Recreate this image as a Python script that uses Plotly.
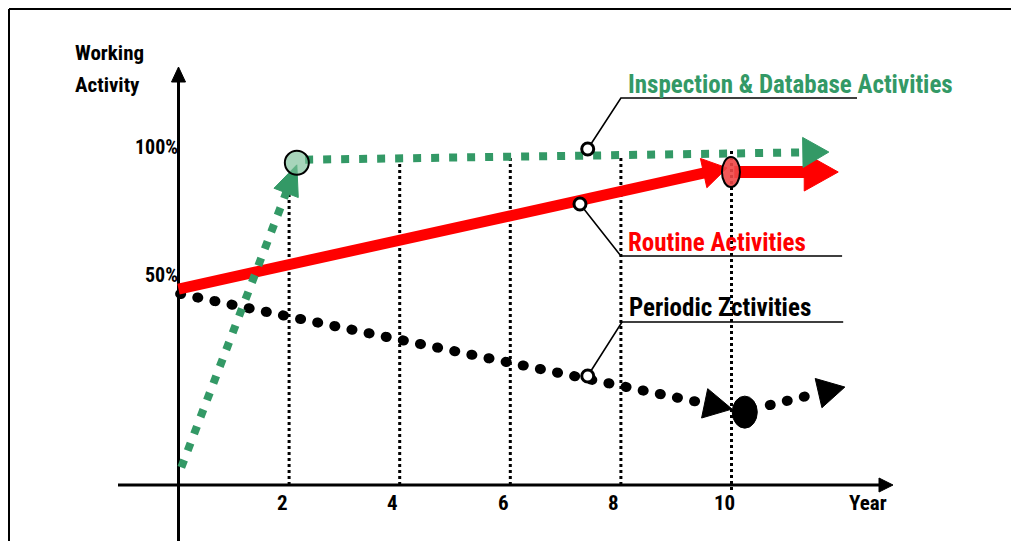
import math
import plotly.graph_objects as go

# ---- chart data -------------------------------------------------------------
tick_years = [2, 4, 6, 8, 10]
tick_labels = ["2", "4", "6", "8", "10"]
pct_ticks = [50, 100]
pct_labels = ["50%", "100%"]
guide_tops = [83.0, 97.0, 97.7, 98.0, 100.0]   # upper end of each year guide

# Inspection & Database: rise to ~95% by year 2, then level towards 100%
insp_years = [0.05, 2.14, 11.76]
insp_pct = [-24.0, 95.0, 99.2]

# Routine: steady climb, marker at year 10, then flat
routine_years = [0.0, 9.92, 10.05, 11.93]
routine_pct = [45.7, 93.0, 91.4, 91.4]

# Periodic: declining towards year 10, then slight recovery
periodic_years = [0.03, 10.01, 10.24, 12.05]
periodic_pct = [43.8, -1.2, -1.6, 7.4]

# callout anchors: (point on line, elbow, end of underline, label y)
callouts = {
    "Inspection & Database Activities": dict(pt=(7.40, 100.4), elbow=(8.0, 120.3), end=(12.27, 120.3), ty=125.4, color="#339966"),
    "Routine Activities": dict(pt=(7.26, 78.9), elbow=(8.0, 58.6), end=(12.0, 58.6), ty=63.7, color="#ff0000"),
    "Periodic Zctivities": dict(pt=(7.40, 11.7), elbow=(8.02, 32.8), end=(12.02, 32.8), ty=38.3, color="#000000"),
}

# ---- coordinate helpers -----------------------------------------------------
W, H = 1011, 541
X_OFF, X_SCALE = 178.5, 55.3      # pixels at year 0, pixels per year
Y_OFF, Y_SCALE = 406.0, 2.56      # pixels at 0 %, pixels per percent
X_RANGE = [(0 - X_OFF) / X_SCALE, (W - X_OFF) / X_SCALE]
Y_RANGE = [(Y_OFF - H) / Y_SCALE, (Y_OFF - 0) / Y_SCALE]
AXIS_Y = (Y_OFF - 485) / Y_SCALE
FONT = "Liberation Sans Narrow, Arial Narrow, Roboto Condensed, sans-serif"


def to_px(x, y):
    return X_OFF + X_SCALE * x, Y_OFF - Y_SCALE * y


def to_data(px, py):
    return (px - X_OFF) / X_SCALE, (Y_OFF - py) / Y_SCALE


def head(x0, y0, x1, y1, length, half):
    """Triangle arrowhead at (x1, y1) pointing away from (x0, y0); returns
    the triangle and the point where the shaft should stop."""
    ax, ay = to_px(x0, y0)
    bx, by = to_px(x1, y1)
    d = math.hypot(bx - ax, by - ay)
    ux, uy = (bx - ax) / d, (by - ay) / d
    nx, ny = -uy, ux
    cx, cy = bx - ux * length, by - uy * length
    pts = [(bx, by), (cx + nx * half, cy + ny * half), (cx - nx * half, cy - ny * half), (bx, by)]
    data = [to_data(*p) for p in pts]
    stop = to_data(cx + ux * 2, cy + uy * 2)
    return [p[0] for p in data], [p[1] for p in data], stop


def ellipse(cx, cy, rx_px, ry_px, **kw):
    px, py = to_px(cx, cy)
    x0, y0 = to_data(px - rx_px, py + ry_px)
    x1, y1 = to_data(px + rx_px, py - ry_px)
    return dict(type="circle", xref="x", yref="y", x0=x0, x1=x1, y0=y0, y1=y1, layer="above", **kw)


fig = go.Figure()


def line(xs, ys, color, width, dash="solid"):
    fig.add_trace(go.Scatter(x=xs, y=ys, mode="lines", hoverinfo="skip", showlegend=False,
                             line=dict(color=color, width=width, dash=dash)))


def tri(xs, ys, color):
    fig.add_trace(go.Scatter(x=xs, y=ys, mode="lines", fill="toself", fillcolor=color, hoverinfo="skip",
                             showlegend=False, line=dict(color=color, width=1)))


# ---- year guides ------------------------------------------------------------
for yr, top in zip(tick_years, guide_tops):
    bottom = AXIS_Y - (2.0 if yr == 10 else 0.0)
    line([yr, yr], [bottom, top], "#000000", 3, "3px,3px")

# ---- axes -------------------------------------------------------------------
xa0, _ = to_data(118, 0)
xtip, _ = to_data(893, 0)
tx, ty, stop = head(xa0, AXIS_Y, xtip, AXIS_Y, 14, 7)
line([xa0, stop[0]], [AXIS_Y, AXIS_Y], "#000000", 3)
tri(tx, ty, "#000000")

_, ytip = to_data(0, 67)
tx, ty, stop = head(0, Y_RANGE[0], 0, ytip, 15, 7)
line([0, 0], [Y_RANGE[0], stop[1]], "#000000", 3)
tri(tx, ty, "#000000")

# ---- Periodic (round dots) --------------------------------------------------
DOTS = "1px,16.5px"
tx, ty, stop = head(periodic_years[0], periodic_pct[0], periodic_years[1], periodic_pct[1], 28, 15)
line([periodic_years[0], stop[0]], [periodic_pct[0], stop[1]], "#000000", 10, DOTS)
tri(tx, ty, "#000000")
tx, ty, stop = head(periodic_years[2], periodic_pct[2], periodic_years[3], periodic_pct[3], 27, 15)
sx, sy = to_data(*[a + b for a, b in zip(to_px(periodic_years[2], periodic_pct[2]), (25, -5))])
line([sx, stop[0]], [sy, stop[1]], "#000000", 10, DOTS)
tri(tx, ty, "#000000")

# ---- Routine ----------------------------------------------------------------
tx, ty, stop = head(routine_years[0], routine_pct[0], routine_years[1], routine_pct[1], 24, 15)
line([routine_years[0], stop[0]], [routine_pct[0], stop[1]], "#ff0000", 11)
tri(tx, ty, "#ff0000")
tx, ty, stop = head(routine_years[2], routine_pct[2], routine_years[3], routine_pct[3], 34, 19)
line([routine_years[2], stop[0]], [routine_pct[2], stop[1]], "#ff0000", 12)
tri(tx, ty, "#ff0000")

# ---- Inspection & Database --------------------------------------------------
GREEN = "#339966"
tx, ty, stop = head(insp_years[0], insp_pct[0], insp_years[1], insp_pct[1] - 0.8, 30, 13)
line([insp_years[0], stop[0]], [insp_pct[0], stop[1]], GREEN, 8, "8px,10px")
tri(tx, ty, GREEN)
tx, ty, stop = head(insp_years[1], insp_pct[1] + 1.2, insp_years[2], insp_pct[2], 26, 15)
line([insp_years[1] + 0.15, stop[0]], [insp_pct[1] + 1.2, stop[1]], GREEN, 8, "8px,10px")
tri(tx, ty, GREEN)

# ---- callouts ---------------------------------------------------------------
annotations = []
for text, c in callouts.items():
    line([c["pt"][0], c["elbow"][0], c["end"][0]], [c["pt"][1], c["elbow"][1], c["end"][1]], "#000000", 1.6)
    fig.add_trace(go.Scatter(x=[c["pt"][0]], y=[c["pt"][1]], mode="markers", hoverinfo="skip", showlegend=False,
                             marker=dict(size=12, color="#ffffff", line=dict(color="#000000", width=3))))
    annotations.append(dict(x=c["elbow"][0], y=c["ty"], xref="x", yref="y", text="<b>" + text + "</b>",
                            showarrow=False, xanchor="left", yanchor="middle", xshift=5,
                            font=dict(size=25, color=c["color"], family=FONT)))

# ---- markers on the lines ---------------------------------------------------
shapes = [
    ellipse(insp_years[1], insp_pct[1], 12, 12, fillcolor="rgba(120,190,150,0.65)", line=dict(color="#000000", width=2)),
    ellipse(routine_years[2] - 0.06, routine_pct[2], 9, 15, fillcolor="rgba(240,70,70,0.9)", line=dict(color="#000000", width=2)),
    ellipse(periodic_years[2], periodic_pct[2] - 0.8, 12.5, 16, fillcolor="#000000", line=dict(color="#000000", width=1)),
    # frame
    dict(type="line", xref="paper", yref="paper", x0=9 / W, x1=1, y0=1 - 9 / H, y1=1 - 9 / H,
         line=dict(color="#000000", width=2)),
    dict(type="line", xref="paper", yref="paper", x0=9 / W, x1=9 / W, y0=0, y1=1 - 9 / H,
         line=dict(color="#000000", width=2)),
]

# ---- tick labels and axis titles --------------------------------------------
for yr, lab in zip(tick_years, tick_labels):
    annotations.append(dict(x=yr, y=AXIS_Y, xref="x", yref="y", text="<b>" + lab + "</b>", showarrow=False,
                            xanchor="center", yanchor="top", xshift=-7, yshift=-4,
                            font=dict(size=21, color="#000000", family=FONT)))
for p, lab in zip(pct_ticks, pct_labels):
    annotations.append(dict(x=0, y=p, xref="x", yref="y", text="<b>" + lab + "</b>", showarrow=False,
                            xanchor="right", yanchor="middle", xshift=1, yshift=3,
                            font=dict(size=20, color="#000000", family=FONT)))
annotations += [
    dict(x=73 / W, y=1 - 53 / H, xref="paper", yref="paper", text="<b>Working</b>", showarrow=False,
         xanchor="left", yanchor="middle", font=dict(size=21, color="#000000", family=FONT)),
    dict(x=73 / W, y=1 - 85 / H, xref="paper", yref="paper", text="<b>Activity</b>", showarrow=False,
         xanchor="left", yanchor="middle", font=dict(size=21, color="#000000", family=FONT)),
    dict(x=868 / W, y=1 - 503 / H, xref="paper", yref="paper", text="<b>Year</b>", showarrow=False,
         xanchor="center", yanchor="middle", font=dict(size=21, color="#000000", family=FONT)),
]

fig.update_layout(
    width=W, height=H, autosize=False,
    margin=dict(l=0, r=0, t=0, b=0),
    paper_bgcolor="#ffffff", plot_bgcolor="#ffffff",
    xaxis=dict(range=X_RANGE, visible=False, fixedrange=True),
    yaxis=dict(range=Y_RANGE, visible=False, fixedrange=True),
    shapes=shapes, annotations=annotations,
)

# round caps turn the short dashes of the Periodic line into dots
post = (
    "document.querySelectorAll('path.js-line').forEach(function(p){"
    "if((p.style.strokeDasharray||'').indexOf('16.5')>=0){p.style.strokeLinecap='round';}});"
)
fig.write_html("out.html", post_script=post, config={"displayModeBar": False, "staticPlot": True})
